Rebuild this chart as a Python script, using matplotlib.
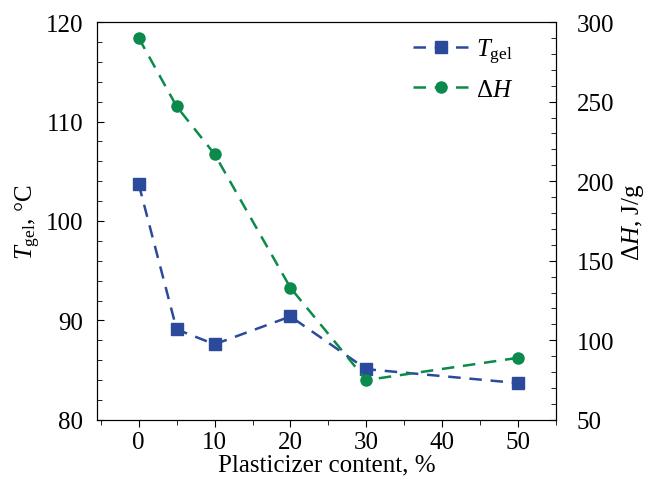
import matplotlib.pyplot as plt
from matplotlib.ticker import MultipleLocator

plt.rcParams['font.family'] = ['Liberation Serif', 'DejaVu Serif']
plt.rcParams['mathtext.fontset'] = 'custom'
plt.rcParams['mathtext.it'] = 'Liberation Serif:italic'
plt.rcParams['mathtext.rm'] = 'Liberation Serif'

# data
content = [0, 5, 10, 20, 30, 50]
t_gel = [103.7, 89.1, 87.6, 90.4, 85.1, 83.7]
delta_h = [290, 247, 217, 133, 75, 89]

blue = '#2b4a9b'
green = '#0b8a4b'

fig = plt.figure(figsize=(6.51, 4.81), dpi=100)
ax = fig.add_axes([0.149, 0.125, 0.705, 0.827])
ax2 = ax.twinx()

l1, = ax.plot(content, t_gel, color=blue, ls=(0, (5, 3.5)), lw=1.8,
              marker='s', ms=8, label=r'$T_{\rm gel}$')
l2, = ax2.plot(content, delta_h, color=green, ls=(0, (5, 3.5)), lw=1.8,
               marker='o', ms=8, label=r'$\Delta H$')

ax.set_xlim(-5.5, 55)
ax.set_ylim(80, 120)
ax2.set_ylim(50, 300)

ax.xaxis.set_major_locator(MultipleLocator(10))
ax.xaxis.set_minor_locator(MultipleLocator(5))
ax.yaxis.set_major_locator(MultipleLocator(10))
ax.yaxis.set_minor_locator(MultipleLocator(2))
ax2.yaxis.set_major_locator(MultipleLocator(50))
ax2.yaxis.set_minor_locator(MultipleLocator(10))

fs = 18
ax.tick_params(axis='x', which='both', direction='out', labelsize=fs, pad=3)
ax.tick_params(axis='x', which='major', length=5)
ax.tick_params(axis='x', which='minor', length=3.5)
ax.tick_params(axis='y', which='both', direction='in', labelsize=fs, pad=10)
ax.tick_params(axis='y', which='major', length=5)
ax.tick_params(axis='y', which='minor', length=3.5)
ax2.tick_params(axis='y', which='both', direction='in', labelsize=fs, pad=15)
ax2.tick_params(axis='y', which='major', length=5)
ax2.tick_params(axis='y', which='minor', length=3.5)

ax.set_xlabel('Plasticizer content, %', fontsize=fs, labelpad=0)
ax.set_ylabel(r'$T_{\rm gel}$, °C', fontsize=fs, labelpad=2)
ax2.set_ylabel(r'$\Delta H$, J/g', fontsize=fs, labelpad=4)

ax.legend(handles=[l1, l2], loc='upper right', frameon=False, fontsize=fs,
          handlelength=2.2, handletextpad=0.3, borderaxespad=0.5,
          labelspacing=0.5, bbox_to_anchor=(0.955, 1.02))

fig.savefig('out.png', dpi=100)
